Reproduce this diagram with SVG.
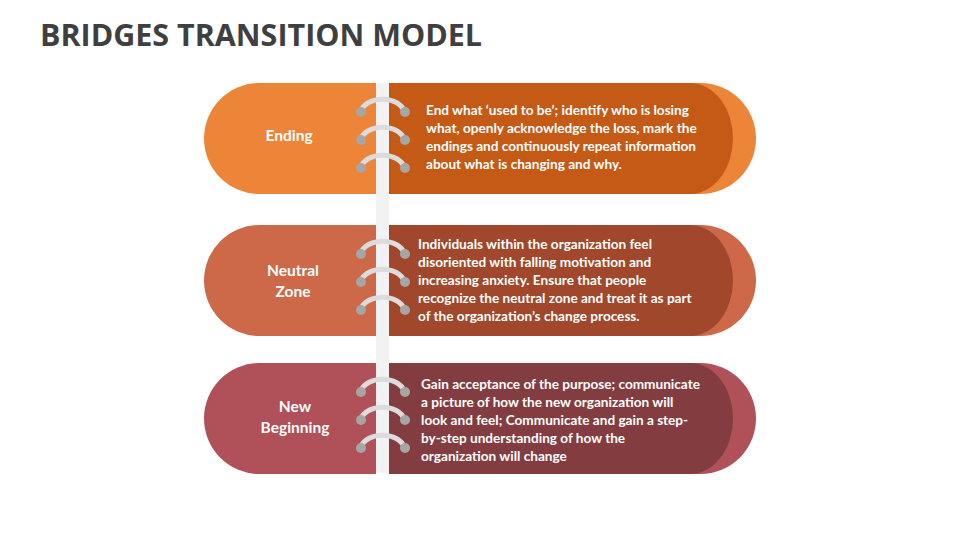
<svg xmlns="http://www.w3.org/2000/svg" width="960" height="540" viewBox="0 0 960 540">
<style>
.t{font-family:Lato,"Open Sans",sans-serif;font-weight:bold;fill:#fff;font-size:13.6px}
.l{font-family:Lato,"Open Sans",sans-serif;font-weight:bold;fill:#fff;font-size:15.5px;text-anchor:middle}
.ring{fill:none;stroke:#dcdcdc;stroke-width:5;stroke-linecap:round}
.end{fill:#a6a6a6}
</style>
<defs>
<g id="rings">
<path class="ring" d="M361,111 A22,15 0 0 1 404,111"/><circle class="end" cx="361" cy="112" r="5"/><circle class="end" cx="405" cy="112" r="5"/>
<path class="ring" d="M361,139 A22,15 0 0 1 404,139"/><circle class="end" cx="361" cy="140" r="5"/><circle class="end" cx="405" cy="140" r="5"/>
<path class="ring" d="M361,167 A22,15 0 0 1 404,167"/><circle class="end" cx="361" cy="168" r="5"/><circle class="end" cx="405" cy="168" r="5"/>
</g>
</defs>
<rect width="960" height="540" fill="#fff"/>
<text x="40" y="46" font-family="Open Sans,Liberation Sans,sans-serif" font-weight="bold" font-size="30" fill="#3f3f3f" textLength="442" lengthAdjust="spacingAndGlyphs">BRIDGES TRANSITION MODEL</text>
<rect x="376" y="83" width="13" height="390" fill="#f2f2f2"/>
<g id="ending">
<path d="M376,83 H259.5 A55.5,55.5 0 0 0 259.5,194 H376 Z" fill="#ED8539"/>
<path d="M389,83 H700.5 A55.5,55.5 0 0 1 700.5,194 H389 Z" fill="#ED8539"/>
<path d="M389,83 H690 A43,55.5 0 0 1 690,194 H389 Z" fill="#C55A17"/>
<use href="#rings"/>
<text class="l" x="289" y="141">Ending</text>
<text class="t" x="426" y="115">End what ‘used to be’; identify who is losing</text>
<text class="t" x="426" y="133">what, openly acknowledge the loss, mark the</text>
<text class="t" x="426" y="151">endings and continuously repeat information</text>
<text class="t" x="426" y="169">about what is changing and why.</text>
</g>
<g id="neutral">
<path d="M376,225 H259.5 A55.5,55.5 0 0 0 259.5,336 H376 Z" fill="#CD6948"/>
<path d="M389,225 H700.5 A55.5,55.5 0 0 1 700.5,336 H389 Z" fill="#CD6948"/>
<path d="M389,225 H690 A43,55.5 0 0 1 690,336 H389 Z" fill="#A1472B"/>
<use href="#rings" y="142"/>
<text class="l" x="293" y="276">Neutral</text>
<text class="l" x="293" y="297">Zone</text>
<text class="t" x="418" y="249">Individuals within the organization feel</text>
<text class="t" x="418" y="267">disoriented with falling  motivation and</text>
<text class="t" x="418" y="285">increasing anxiety. Ensure  that people</text>
<text class="t" x="418" y="303">recognize the neutral zone and treat it as part</text>
<text class="t" x="418" y="321">of the organization’s change process.</text>
</g>
<g id="newbeginning">
<path d="M376,363 H259.5 A55.5,55.5 0 0 0 259.5,474 H376 Z" fill="#B05058"/>
<path d="M389,363 H700.5 A55.5,55.5 0 0 1 700.5,474 H389 Z" fill="#B05058"/>
<path d="M389,363 H690 A43,55.5 0 0 1 690,474 H389 Z" fill="#833D41"/>
<use href="#rings" y="280"/>
<text class="l" x="295" y="412">New</text>
<text class="l" x="295" y="433">Beginning</text>
<text class="t" x="421" y="389">Gain acceptance of the purpose; communicate</text>
<text class="t" x="421" y="407">a picture of how the new organization will</text>
<text class="t" x="421" y="425">look and feel; Communicate and gain a step-</text>
<text class="t" x="421" y="443">by-step understanding of how the</text>
<text class="t" x="421" y="461">organization will change</text>
</g>
</svg>
